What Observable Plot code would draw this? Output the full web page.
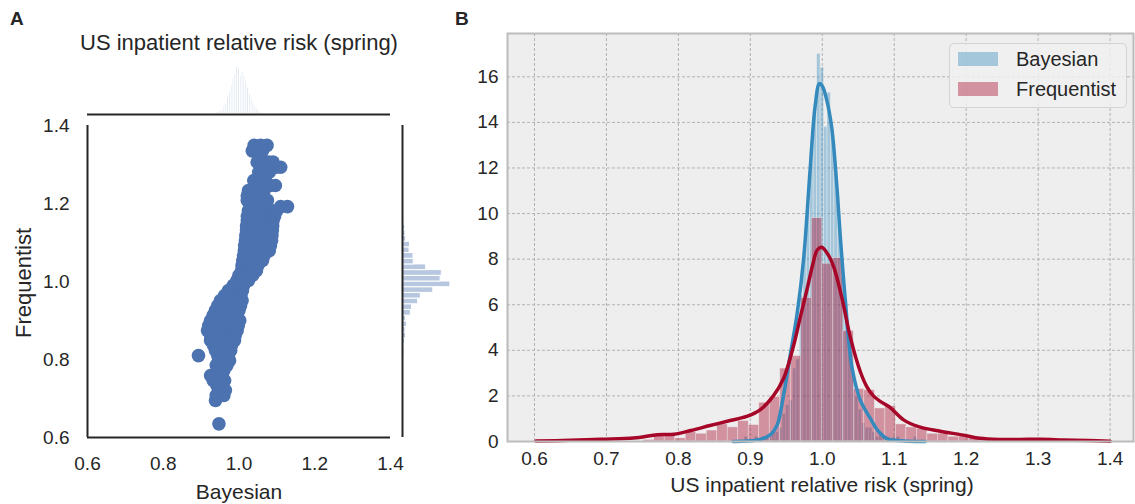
<!DOCTYPE html>
<html><head><meta charset="utf-8">
<script src="https://cdn.jsdelivr.net/npm/d3@7"></script>
<script src="https://cdn.jsdelivr.net/npm/@observablehq/plot@0.6"></script>
<style>
body{margin:0;background:#fff;}
#root{position:relative;width:1135px;height:504px;overflow:hidden;font-family:"Liberation Sans",Arial,sans-serif;color:#262626;background:#fff;}
#root svg{position:absolute;overflow:visible;}
.t{position:absolute;white-space:nowrap;line-height:1;}
</style></head><body><div id="root"></div>
<script>
// ---------- data ----------
// scatter rows: [Frequentist estimate, [Bayesian estimates ...]]
const scatterRows = [
  [1.349, [1.040, 1.057, 1.074]],
  [1.335, [1.035, 1.050, 1.062]],
  [1.306, [1.048, 1.062, 1.078, 1.090]],
  [1.293, [1.110, 1.098]],
  [1.280, [1.052, 1.066, 1.080]],
  [1.259, [1.039, 1.054, 1.070]],
  [1.246, [1.096, 1.082, 1.064]],
  [1.233, [1.025, 1.040, 1.055, 1.066]],
  [1.220, [1.022, 1.036, 1.050, 1.064]],
  [1.208, [1.022, 1.036, 1.050, 1.062, 1.075]],
  [1.192, [1.128, 1.110]],
  [1.182, [1.025, 1.040, 1.055, 1.070, 1.085, 1.100]],
  [1.168, [1.022, 1.037, 1.052, 1.066, 1.080, 1.094]],
  [1.156, [1.022, 1.036, 1.050, 1.065, 1.080, 1.090]],
  [1.143, [1.020, 1.035, 1.050, 1.065, 1.080, 1.089]],
  [1.131, [1.020, 1.035, 1.050, 1.065, 1.080, 1.088]],
  [1.118, [1.018, 1.032, 1.047, 1.062, 1.076, 1.087]],
  [1.105, [1.017, 1.030, 1.045, 1.060, 1.075, 1.086]],
  [1.092, [1.015, 1.029, 1.044, 1.059, 1.072, 1.083]],
  [1.079, [1.014, 1.028, 1.043, 1.058, 1.070, 1.080]],
  [1.066, [1.012, 1.026, 1.041, 1.056, 1.066]],
  [1.054, [1.010, 1.025, 1.040, 1.055, 1.062]],
  [1.041, [1.008, 1.022, 1.037, 1.050]],
  [1.028, [1.007, 1.020, 1.035, 1.046]],
  [1.016, [1.000, 1.012, 1.025, 1.036]],
  [1.003, [0.995, 1.005, 1.015, 1.025]],
  [0.990, [0.985, 1.000, 1.012]],
  [0.977, [0.972, 0.985, 1.000, 1.009]],
  [0.964, [0.962, 0.975, 0.990, 1.005]],
  [0.951, [0.951, 0.965, 0.980, 0.995, 1.008]],
  [0.938, [0.944, 0.958, 0.972, 0.988, 1.004]],
  [0.926, [0.938, 0.952, 0.968, 0.984, 1.000]],
  [0.913, [0.932, 0.947, 0.962, 0.978, 0.995]],
  [0.900, [0.925, 0.940, 0.956, 0.972, 0.988, 1.002]],
  [0.887, [0.920, 0.936, 0.952, 0.968, 0.984, 0.998]],
  [0.874, [0.917, 0.932, 0.948, 0.964, 0.980, 0.995]],
  [0.862, [0.925, 0.940, 0.956, 0.972, 0.990]],
  [0.849, [0.925, 0.940, 0.956, 0.972, 0.988]],
  [0.836, [0.933, 0.948, 0.962, 0.980]],
  [0.823, [0.938, 0.952, 0.966, 0.978]],
  [0.810, [0.893, 0.944, 0.958, 0.972]],
  [0.797, [0.946, 0.960, 0.975]],
  [0.785, [0.940, 0.955, 0.968]],
  [0.772, [0.946, 0.960]],
  [0.759, [0.925, 0.940, 0.955]],
  [0.746, [0.932, 0.950, 0.962]],
  [0.733, [0.942, 0.956]],
  [0.721, [0.948, 0.964]],
  [0.708, [0.940, 0.960]],
  [0.695, [0.938]],
  [0.635, [0.947]]
];

// histogram (density) bins
const bayesBinStart = 0.892, bayesBinWidth = 0.0048;
const bayesDensity = [0.2, 0, 0, 0.2, 0, 0.2, 0.2, 0.2, 0.4, 0.4,
  0.6, 1.2, 1.6, 1.8, 3.2, 3.6, 6.4, 8.4, 10.4, 12.8,
  14.4, 17.0, 16.4, 13.8, 15.3, 13.7, 11.8, 9.6, 7.2, 5.4,
  4.0, 3.0, 2.0, 1.4, 0.8, 0.6, 0.6, 0.4, 0.2, 0.4,
  0.2, 0.2, 0, 0.2, 0.2, 0, 0, 0, 0, 0.2];

const freqBinStart = 0.635, freqBinWidth = 0.0146;
const freqDensity = [0.07, 0, 0, 0, 0, 0, 0, 0, 0.07, 0.27,
  0.27, 0.14, 0.41, 0.34, 0.48, 0.75, 0.62, 0.9, 0.72, 1.7,
  1.95, 3.2, 3.75, 6.3, 9.8, 7.8, 8.05, 4.85, 2.3, 2.25,
  1.45, 1.55, 0.75, 0.62, 0.55, 0.34, 0.34, 0.21, 0.21, 0.14,
  0.07, 0, 0.07, 0, 0, 0.07, 0, 0, 0, 0.07];

// KDE curves
const bayesKdeX = [0.876, 0.900, 0.915, 0.928, 0.937, 0.946, 0.956, 0.965, 0.974, 0.983, 0.990, 0.996, 1.000, 1.006, 1.013, 1.020, 1.025, 1.032, 1.041, 1.053, 1.067, 1.078, 1.090, 1.104, 1.120, 1.143];
const bayesKdeY = [0, 0.03, 0.1, 0.3, 0.7, 2.0, 3.9, 5.6, 8.0, 11.9, 14.7, 15.7, 15.6, 15.0, 13.8, 11.3, 9.0, 6.2, 3.3, 1.8, 1.0, 0.45, 0.12, 0.04, 0.01, 0];
const freqKdeX = [0.602, 0.650, 0.692, 0.738, 0.771, 0.794, 0.817, 0.844, 0.872, 0.895, 0.914, 0.932, 0.946, 0.960, 0.969, 0.979, 0.987, 0.993, 0.999, 1.008, 1.016, 1.027, 1.039, 1.053, 1.062, 1.071, 1.081, 1.094, 1.113, 1.136, 1.164, 1.196, 1.219, 1.247, 1.275, 1.303, 1.335, 1.370, 1.400];
const freqKdeY = [0.02, 0.05, 0.1, 0.15, 0.3, 0.32, 0.48, 0.7, 0.92, 1.1, 1.4, 2.0, 2.75, 4.2, 5.4, 6.7, 7.8, 8.4, 8.52, 8.2, 7.65, 6.33, 4.57, 3.05, 2.4, 2.0, 1.75, 1.5, 0.95, 0.63, 0.45, 0.28, 0.14, 0.09, 0.09, 0.1, 0.07, 0.04, 0.01];

const ticksA = [0.6, 0.8, 1.0, 1.2, 1.4];
const xTicksB = [0.6, 0.7, 0.8, 0.9, 1.0, 1.1, 1.2, 1.3, 1.4];
const yTicksB = [0, 2, 4, 6, 8, 10, 12, 14, 16];
const seriesNames = ["Bayesian", "Frequentist"];
const axisTitle = "US inpatient relative risk (spring)";

// ---------- derived tables ----------
const points = scatterRows.flatMap(([f, bs]) => bs.map(b => ({bayes: b, freq: f})));
const bayesBins = bayesDensity.map((d, i) => ({lo: bayesBinStart + i * bayesBinWidth, hi: bayesBinStart + (i + 1) * bayesBinWidth, d}));
const freqBins = freqDensity.map((d, i) => ({lo: freqBinStart + i * freqBinWidth, hi: freqBinStart + (i + 1) * freqBinWidth, d}));
const bayesKde = bayesKdeX.map((x, i) => ({x, y: bayesKdeY[i]}));
const freqKde = freqKdeX.map((x, i) => ({x, y: freqKdeY[i]}));

const root = document.getElementById("root");
const FONT = '"Liberation Sans", Arial, sans-serif';
const INK = "#262626";
function place(svg, left, top) { svg.style.left = left + "px"; svg.style.top = top + "px"; root.appendChild(svg); }
function text(str, x, y, size, opts = {}) {
  const d = document.createElement("div");
  d.className = "t"; d.textContent = str;
  d.style.fontSize = size + "px";
  if (opts.bold) d.style.fontWeight = "bold";
  d.style.left = x + "px"; d.style.top = y + "px";
  if (opts.center) d.style.transform = "translate(-50%,-50%)" + (opts.rotate ? " rotate(-90deg)" : "");
  root.appendChild(d); return d;
}

// ---------- Panel A: joint scatter ----------
const scat = Plot.plot({
  width: 460, height: 504, marginLeft: 87, marginRight: 70, marginTop: 125, marginBottom: 67,
  style: {fontSize: "19px", fontFamily: FONT, color: INK, background: "transparent"},
  x: {domain: [0.6, 1.4], ticks: ticksA, tickSize: 0, tickPadding: 19, tickFormat: ".1f", label: null},
  y: {domain: [0.6, 1.4], ticks: ticksA, tickSize: 0, tickPadding: 18, tickFormat: ".1f", label: null},
  marks: [
    Plot.dot(points, {x: "bayes", y: "freq", r: 6.8, fill: "#4c72b0", stroke: "none"}),
    Plot.ruleX([0.6], {stroke: INK, strokeWidth: 2}),
    Plot.ruleY([0.6], {stroke: INK, strokeWidth: 2})
  ]
});
place(scat, 0, 0);

// top marginal (Bayesian)
const margTop = Plot.plot({
  width: 460, height: 75, marginLeft: 87, marginRight: 70, marginTop: 0, marginBottom: 1,
  style: {background: "transparent"},
  x: {domain: [0.6, 1.4], axis: null}, y: {domain: [0, 26.2], axis: null},
  marks: [
    Plot.rectY(bayesBins, {x1: "lo", x2: "hi", y: "d", fill: "#4c72b0", fillOpacity: 0.18, stroke: "white", strokeWidth: 1}),
    Plot.ruleY([0], {stroke: INK, strokeWidth: 2})
  ]
});
place(margTop, 0, 40);

// right marginal (Frequentist)
const margRight = Plot.plot({
  width: 70, height: 504, marginLeft: 7, marginRight: 0, marginTop: 125, marginBottom: 67,
  style: {background: "transparent"},
  x: {domain: [0, 12.9], axis: null}, y: {domain: [0.6, 1.4], axis: null},
  marks: [
    Plot.rectX(freqBins, {y1: "lo", y2: "hi", x: "d", fill: "#4c72b0", fillOpacity: 0.4, stroke: "white", strokeWidth: 1}),
    Plot.ruleX([0], {stroke: INK, strokeWidth: 2})
  ]
});
place(margRight, 395, 0);

// ---------- Panel B: histograms + KDE ----------
const BLUE = "#348ABD", RED = "#A60628";
const histB = Plot.plot({
  width: 695, height: 504, marginLeft: 67, marginRight: 2, marginTop: 33, marginBottom: 63,
  style: {fontSize: "19px", fontFamily: FONT, color: INK, background: "transparent"},
  x: {domain: [0.5625, 1.4325], ticks: xTicksB, tickSize: 0, tickPadding: 10, tickFormat: ".1f", label: null},
  y: {domain: [0, 17.9], ticks: yTicksB, tickSize: 0, tickPadding: 9, label: null},
  marks: [
    Plot.frame({fill: "#eeeeee", stroke: "none"}),
    Plot.ruleX(xTicksB, {stroke: "#b2b2b2", strokeWidth: 1, strokeDasharray: "3,2"}),
    Plot.ruleY(yTicksB.slice(1), {stroke: "#b2b2b2", strokeWidth: 1, strokeDasharray: "3,2"}),
    Plot.rectY(bayesBins, {x1: "lo", x2: "hi", y: "d", fill: BLUE, fillOpacity: 0.4, stroke: "#eeeeee", strokeWidth: 0.7, strokeOpacity: 0.6}),
    Plot.rectY(freqBins, {x1: "lo", x2: "hi", y: "d", fill: RED, fillOpacity: 0.4, stroke: "#eeeeee", strokeWidth: 0.7, strokeOpacity: 0.6}),
    Plot.line(bayesKde, {x: "x", y: "y", stroke: BLUE, strokeWidth: 3.5, curve: "catmull-rom"}),
    Plot.line(freqKde, {x: "x", y: "y", stroke: RED, strokeWidth: 3.5, curve: "catmull-rom"}),
    Plot.frame({stroke: "#bcbcbc", strokeWidth: 2})
  ]
});
place(histB, 440, 0);

// ---------- text ----------
text("A", 10, 9, 19, {bold: true});
text("B", 455, 9, 19, {bold: true});
text(axisTitle, 239, 43, 22, {center: true});
text("Bayesian", 239, 491, 21, {center: true});
text("Frequentist", 24, 283, 22, {center: true, rotate: true});
text(axisTitle, 822, 484, 21, {center: true});

// legend
const leg = document.createElement("div");
leg.style.cssText = "position:absolute;left:949px;top:43px;width:176px;height:63px;background:rgba(240,240,240,0.85);border:1px solid #d4d4d4;border-radius:5px;";
root.appendChild(leg);
const swatchColors = ["rgba(52,138,189,0.4)", "rgba(166,6,40,0.4)"];
seriesNames.forEach((name, i) => {
  const sw = document.createElement("div");
  sw.style.cssText = `position:absolute;left:958px;top:${52 + i * 30}px;width:40px;height:14px;background:${swatchColors[i]};`;
  root.appendChild(sw);
  text(name, 1016, 59 + i * 30 - 10, 20);
});
</script></body></html>
